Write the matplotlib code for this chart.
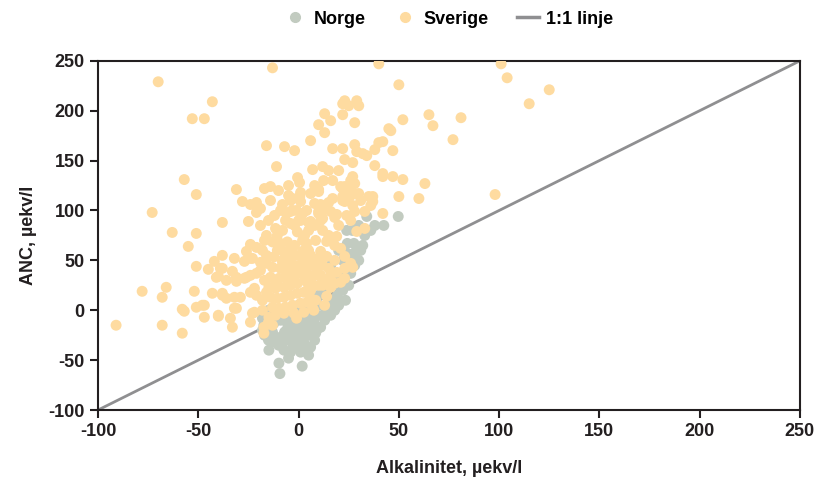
import numpy as np
import matplotlib
matplotlib.use('Agg')
import matplotlib.pyplot as plt
from matplotlib.lines import Line2D

plt.rcParams['font.family'] = ['Liberation Sans Narrow', 'Liberation Sans', 'DejaVu Sans']
plt.rcParams['axes.unicode_minus'] = False

# Norge: (alkalinitet, ANC)
norge_x = [-14.8, -9.8, -9.3, 1.8, 1, -7.3, -3, 6, 8.5, 4.3, 14.3, 23.4, 19.3, 16, 21, 26,
           7.6, 11, -0.6, -4.8, -9, -13, -17.3, 2.6, -2.3, 6, -12.3, -5.6, 1, -9, -2.3,
           34, 38, 42.5, 49.7, 26.8, 24, 24.3, 27.6, 31, 28.4, 24.3, 12, 16, 6, -4, -9,
           -14, -16, 0, 10, 20, 25, 28, 22, 18, 3, -6, 13, 0, -12, 5, -5, 22, 30, -18,
           -15, 8, -8,
           -17, -14, -11, -7, -3, 1, 4, 8, -10, -6, -2, 3, -12, -7, -2, 4, 9, 12, 15, 18,
           10, 14, -15, -18, -4, 0, 7, 2, 20, 24, 26, 32, 33, 36, 30, 20, 16]
norge_y = [-40, -53, -63.5, -56, -42, -40, -38, -37, -23, -25, -3, 10, 15, 30, 33, 37,
           -13, -17, -20, -25, -27, -22, -15, -32, -32, -17, -13, -13, -13, -10, -10,
           94, 85, 85, 94, 80, 80, 67, 67, 60, 58.5, 57, 25, -5, -5, -8, -2,
           -5, -12, 5, 5, 5, 25, 45, 20, 0, -8, -20, -10, -28, -32, -45, -48, 50, 50, -8,
           -30, -30, -33,
           -25, -18, -28, -22, -18, -22, -15, -8, -35, -30, -26, -38, -8, -5, -15, -5, -20, -5, 5, 10,
           15, 20, 0, -20, -42, -35, -25, 0, 25, 40, 55, 65, 75, 80, 85, 60, 45]

# Sverige: (alkalinitet, ANC)
sverige_x = [
    -70, -13, 40, 101, 104, 115, 125, -43, -53, -47, 81, 65, 67, 77, 52, 50, 98, 63, 60, 50,
    42, -57, -51, -73, -16, -7, -2, 6, -11, 7, 12, -31, -28, -38, -25, -17, -14, -24, -21, -21,
    -8, -3, 1, -0.5, 0.5, -6, -4, 2, 0, 5, 10, 6, 12.5, 17, 11, 15, 12, 10, 12, 19,
    18, 22, 23, 25, 22, 23, 28, 30, 28, 27, 26, 17, 22, 23, 27, 28, 29, 32, 34, 28,
    22, 10, 13, 16, 13, 22, 23, 25, 29, 30, 38, 40, 42, 38, 42, 42, 45, 46, 47, 47,
    52, 37, 36,
    -63, -51, -55, -78, -66, -68, -91, -68, -58, -57, -58, -51, -48, -47, -40, -52, -43, -38,
    -36, -32, -29, -32, -34, -33, -22, -17, -19, -16, -24, -21, -51, -45, -42, -38, -38, -33,
    -40, -36, -31, -32, -27, -24, -27, -24, -22, -24,
    -26, -23, -39, -41, -31, -26, -21, -38, -21, -47, -40, -31, -23, -24,
    -19, -3, -4, 0.6, 1, 10, 8, 17, 10, 6, 11, 16, 21, 27, 22, 26, 27, 31, 35, 37, 28, 33,
    33, 29, 19, 17, 14, 18, 21, 23, 26, 27, 23, 19, 15, 18, 14, 11, 8.5, 4, 2, 5, 1, 3.5,
    1, 6, 8.5, 9, 11, 13.5, 12, 16, 18, 21, 23,
    -11.5, -8, -10.6, -13, -9, -5.6, -10.6, -7.3, -4, -12.3, -8, -4.8, -1.5, -13, -9, -5.6,
    -2.3, -14, -9.8, -6.5, -3, 0, -14.8, -11.5, -7.3, -4, -0.6, -14, -10.6, -7.3, -4, -0.6,
    2.6, 6, -13, -9.8, -6.5, -3, 1, 4.3, 8.5, -14.8, -11.5, -7.3, -2.3, 2.6, 7.6, -17.3,
    -13, -17.3, -4, -0.6, 1, -6.5,
    -17, -18, -16, -19, -2, 3, 6, 10, 14, 4, 7, -1, 5, 13,
    -15, -12, -9, -5, -2, 2, 5, 8, 12, 15, 20, 24, 26, -18, -16, -19, -14, -10, -5, 4,
    8, 15, 20, -8, -6, -3, 3, 8, 12, 16, 6, 10, -11, -16, -18, -15, 2, 6, -1, 3]
sverige_y = [
    229, 243, 247, 247, 233, 207, 221, 209, 192, 192, 193, 196, 185, 171, 191, 226, 116, 127, 112, 114,
    97, 131, 116, 98, 165, 164, 160, 170, 144, 141, 144, 121, 109, 88, 89, 122, 124, 106, 108, 98,
    106, 112, 118, 133, 128, 97, 99, 97, 90, 88, 121, 117, 130, 130, 106, 108, 100, 97, 92, 96,
    93, 122, 124, 120, 110, 109, 117, 117, 127, 134, 130, 162, 162, 151, 148, 166, 159, 157, 155, 188,
    196, 186, 197, 190, 178, 207, 210, 205, 210, 205, 161, 168, 169, 145, 137, 134, 182, 180, 160, 134,
    131, 114, 105,
    78, 77, 64, 19, 23, 13, -15, -15, -23, -1, 1, 3, 5, -7, -6, 19, 17, 17,
    12, 13, 13, 2, -8, -17, -2, 70, 48, 47, 66, 63, 44, 41, 49, 55, 42, 39,
    34, 30, 29, 52, 49, 52, 32, 35, 22, 18,
    59, 52, 42, 33, 33, 33, 37, 15, 15, 5, -5, 2, -3, -12,
    102, 100, 110, 114, 109, 119, 107, 112, 99, 89, 90, 99, 124, 127, 114, 115, 105, 110, 114, 109, 99, 99,
    82, 79, 74, 72, 69, 65, 62, 54, 47, 43, 42, 38, 42, 50, 54, 59, 70, 67, 59, 60, 54, 48,
    45, 45, 48, 42, 35, 30, 25, 23, 27, 28, 32,
    82, 80, 75, 68.5, 67, 68.5, 60, 58.5, 60, 53.5, 50, 52, 55, 43, 42, 43,
    45, 33, 32, 33, 35, 37, 23, 22, 23, 25, 27, 13, 12, 13, 15, 17,
    18, 20, 3, 2, 3, 5, 7, 8, 10, -7, -5, -3, -3, -2, 0, -17,
    -15, -23, 87, 78.5, 90, 90,
    30, 10, 55, 40, 65, 75, 30, 52, 14, 38, 2, -8, 25, 5,
    90, 95, 100, 115, 85, 70, 80, 85, 80, 75, 85, 95, 90, 60, 75, 85, 110, 120, 125, 100,
    125, 140, 140, 48, 38, 28, 30, 35, 45, 35, 12, 25, 28, 18, 0, -12, 43, 55, 100, 60]

line_x = [-100, 250]
line_y = [-100, 250]

norge_col = '#c2cbc0'
sverige_col = '#fedba0'
line_col = '#8f8f91'
text_col = '#231f20'

fig = plt.figure(figsize=(8.19, 4.79), dpi=100)
ax = fig.add_axes([0.1197, 0.144, 0.857, 0.729])

ax.plot(line_x, line_y, color=line_col, lw=2, zorder=1)
ax.scatter(norge_x, norge_y, s=62, color=norge_col, edgecolors='none', zorder=2)
ax.scatter(sverige_x, sverige_y, s=62, color=sverige_col, edgecolors='none', zorder=3)

ax.set_xlim(-100, 250)
ax.set_ylim(-100, 250)
ax.set_xticks(np.arange(-100, 251, 50))
ax.set_yticks(np.arange(-100, 251, 50))
ax.tick_params(direction='out', length=6, width=1.5, colors=text_col, labelsize=13)
for lab in ax.get_xticklabels() + ax.get_yticklabels():
    lab.set_fontweight('bold')
for sp in ax.spines.values():
    sp.set_linewidth(1.5)
    sp.set_color(text_col)

ax.set_xlabel('Alkalinitet, µekv/l', fontsize=13, fontweight='bold', color=text_col, labelpad=14)
ax.set_ylabel('ANC, µekv/l', fontsize=13, fontweight='bold', color=text_col, labelpad=8)

handles = [
    Line2D([], [], marker='o', ls='none', color=norge_col, markersize=7),
    Line2D([], [], marker='o', ls='none', color=sverige_col, markersize=7),
    Line2D([], [], color=line_col, lw=2.5),
]
fig.legend(handles, ['Norge', 'Sverige', '1:1 linje'], loc='center',
           bbox_to_anchor=(0.548, 0.96), ncol=3, frameon=False,
           prop={'size': 13, 'weight': 'bold'},
           handlelength=1.2, handletextpad=0.4, columnspacing=1.6)

fig.savefig('out.png', dpi=100)
